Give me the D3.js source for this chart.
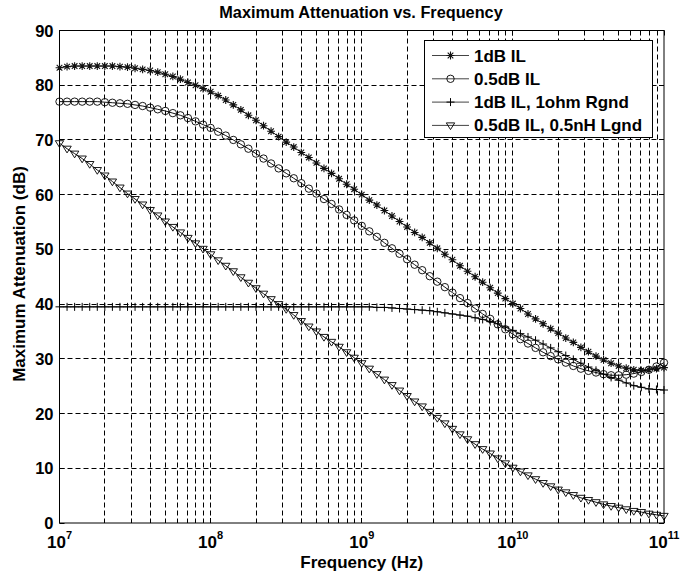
<!DOCTYPE html>
<html>
<head>
<meta charset="utf-8">
<script src="https://cdn.jsdelivr.net/npm/d3@7"></script>
<style>
  body { margin: 0; background: #fff; }
  text { font-family: "Liberation Sans", Arial, Helvetica, sans-serif; font-weight: bold; fill: #000; }
</style>
</head>
<body>
<svg id="chart" width="697" height="580"></svg>
<script>
// sweep: 1e7 .. 1e11 Hz, 20 points per decade
const decades = [7, 8, 9, 10, 11];
const pointsPerDecade = 20;
const freqs = d3.range(0, 81).map(i => Math.pow(10, 7 + i / pointsPerDecade));

// 1dB IL (stars)
const il1dB = [
  83.2, 83.4, 83.5, 83.5, 83.5, 83.5, 83.5, 83.5, 83.4, 83.3,
  83.1, 82.9, 82.7, 82.4, 82.0, 81.6, 81.1, 80.5, 80.0, 79.4,
  78.8, 78.1, 77.3, 76.4, 75.5, 74.5, 73.6, 72.6, 71.6, 70.6,
  69.6, 68.7, 67.7, 66.8, 65.8, 64.8, 63.9, 62.9, 61.9, 61.0,
  60.0, 59.0, 58.1, 57.1, 56.1, 55.1, 54.1, 53.1, 52.2, 51.2,
  50.2, 49.1, 48.1, 47.0, 46.0, 45.0, 44.0, 43.0, 42.0, 41.0,
  40.1, 39.2, 38.2, 37.3, 36.4, 35.5, 34.7, 33.8, 33.0, 32.1,
  31.3, 30.5, 29.8, 29.2, 28.7, 28.3, 28.0, 27.9, 28.0, 28.2,
  28.4
];

// 0.5dB IL (circles)
const il05dB = [
  77.0, 77.0, 77.0, 77.0, 77.0, 77.0, 76.9, 76.8, 76.7, 76.6,
  76.4, 76.2, 75.9, 75.6, 75.3, 74.9, 74.5, 74.0, 73.4, 72.8,
  72.2, 71.5, 70.8, 70.0, 69.2, 68.4, 67.5, 66.6, 65.7, 64.8,
  63.9, 63.0, 62.1, 61.1, 60.2, 59.2, 58.3, 57.3, 56.3, 55.3,
  54.3, 53.3, 52.3, 51.2, 50.2, 49.2, 48.2, 47.2, 46.2, 45.1,
  44.1, 43.1, 42.1, 41.1, 40.2, 39.2, 38.2, 37.3, 36.3, 35.4,
  34.5, 33.6, 32.8, 32.0, 31.2, 30.5, 29.9, 29.3, 28.7, 28.2,
  27.8, 27.5, 27.2, 27.0, 27.0, 27.1, 27.3, 27.6, 28.0, 28.6,
  29.3
];

// 1dB IL, 1ohm Rgnd (plus)
const il1dBRgnd = [
  39.5, 39.5, 39.5, 39.5, 39.5, 39.5, 39.5, 39.5, 39.5, 39.5,
  39.5, 39.5, 39.5, 39.5, 39.5, 39.5, 39.5, 39.5, 39.5, 39.5,
  39.5, 39.5, 39.5, 39.5, 39.5, 39.5, 39.5, 39.5, 39.5, 39.5,
  39.5, 39.5, 39.5, 39.5, 39.5, 39.5, 39.5, 39.5, 39.5, 39.5,
  39.5, 39.5, 39.4, 39.4, 39.3, 39.2, 39.1, 39.0, 38.9, 38.8,
  38.6, 38.4, 38.2, 38.0, 37.8, 37.5, 37.2, 36.8, 36.4, 35.8,
  35.2, 34.6, 34.0, 33.4, 32.7, 32.0, 31.3, 30.6, 29.9, 29.2,
  28.5, 27.9, 27.2, 26.6, 26.1, 25.6, 25.1, 24.8, 24.5, 24.4,
  24.3
];

// 0.5dB IL, 0.5nH Lgnd (down triangles)
const il05dBLgnd = [
  69.4, 68.4, 67.5, 66.6, 65.6, 64.5, 63.5, 62.4, 61.3, 60.2,
  59.2, 58.2, 57.2, 56.2, 55.1, 54.1, 53.1, 52.1, 51.1, 50.1,
  49.1, 48.0, 47.0, 46.0, 44.9, 43.9, 42.9, 41.9, 40.9, 40.0,
  39.1, 38.0, 36.9, 35.9, 35.0, 34.0, 33.1, 32.2, 31.2, 30.2,
  29.2, 28.2, 27.2, 26.2, 25.2, 24.2, 23.2, 22.2, 21.3, 20.3,
  19.2, 18.2, 17.2, 16.2, 15.3, 14.4, 13.5, 12.7, 11.8, 10.9,
  10.1, 9.4, 8.7, 8.0, 7.3, 6.7, 6.1, 5.6, 5.1, 4.6,
  4.2, 3.8, 3.4, 3.1, 2.8, 2.5, 2.2, 2.0, 1.7, 1.5,
  1.3
];

const yTicks = [0, 10, 20, 30, 40, 50, 60, 70, 80, 90];
const legendLabels = ['1dB IL', '0.5dB IL', '1dB IL, 1ohm Rgnd', '0.5dB IL, 0.5nH Lgnd'];

const series = [
  { name: legendLabels[0], values: il1dB, marker: 'star' },
  { name: legendLabels[1], values: il05dB, marker: 'circle' },
  { name: legendLabels[2], values: il1dBRgnd, marker: 'plus' },
  { name: legendLabels[3], values: il05dBLgnd, marker: 'tridown' }
];

const svg = d3.select('#chart');
const plotL = 59.5, plotR = 664, plotT = 30.5, plotB = 523;

const x = d3.scaleLog().domain([1e7, 1e11]).range([plotL, plotR]);
const y = d3.scaleLinear().domain([0, 90]).range([plotB, plotT]);
const crisp = v => Math.round(v - 0.5) + 0.5;

svg.append('rect').attr('width', 697).attr('height', 580).attr('fill', '#fff');

// grid
const grid = svg.append('g').attr('stroke', '#000').attr('stroke-width', 1)
  .attr('stroke-dasharray', '5,3').attr('fill', 'none');

const minorFreqs = [];
decades.slice(0, -1).forEach(d => {
  for (let m = 1; m <= 9; m++) {
    const f = m * Math.pow(10, d);
    if (f > 1e7) minorFreqs.push(f);
  }
});

grid.selectAll('line.v').data(minorFreqs).join('line')
  .attr('class', 'v')
  .attr('x1', d => crisp(x(d))).attr('x2', d => crisp(x(d)))
  .attr('y1', plotT).attr('y2', plotB);

grid.selectAll('line.h').data(yTicks.slice(1, -1)).join('line')
  .attr('class', 'h')
  .attr('x1', plotL).attr('x2', plotR)
  .attr('y1', d => crisp(y(d))).attr('y2', d => crisp(y(d)));

// box
svg.append('rect')
  .attr('x', plotL).attr('y', plotT)
  .attr('width', plotR - plotL).attr('height', plotB - plotT)
  .attr('fill', 'none').attr('stroke', '#000').attr('stroke-width', 1);

// tick marks (inside)
const ticks = svg.append('g').attr('stroke', '#000').attr('stroke-width', 1);
yTicks.forEach(t => {
  const yy = crisp(y(t));
  ticks.append('line').attr('x1', plotL).attr('x2', plotL + 5).attr('y1', yy).attr('y2', yy);
  ticks.append('line').attr('x1', plotR - 5).attr('x2', plotR).attr('y1', yy).attr('y2', yy);
});
minorFreqs.concat([1e7, 1e11]).forEach(f => {
  const xx = crisp(x(f));
  const major = Math.abs(Math.log10(f) - Math.round(Math.log10(f))) < 1e-9;
  const len = major ? 5 : 3;
  ticks.append('line').attr('x1', xx).attr('x2', xx).attr('y1', plotB).attr('y2', plotB - len);
  ticks.append('line').attr('x1', xx).attr('x2', xx).attr('y1', plotT).attr('y2', plotT + len);
});

// y tick labels
svg.append('g').selectAll('text').data(yTicks).join('text')
  .attr('x', 53.5).attr('y', d => y(d) + 6)
  .attr('text-anchor', 'end').attr('font-size', 16.5)
  .text(d => d);

// x tick labels 10^n
const xl = svg.append('g').selectAll('text').data(decades).join('text')
  .attr('x', d => x(Math.pow(10, d))).attr('y', 548)
  .attr('text-anchor', 'middle').attr('font-size', 17);
xl.append('tspan').text('10');
xl.append('tspan').attr('font-size', 11).attr('dy', -9).text(d => d);

// axis labels & title
svg.append('text').attr('x', (plotL + plotR) / 2).attr('y', 568)
  .attr('text-anchor', 'middle').attr('font-size', 17).text('Frequency (Hz)');
svg.append('text')
  .attr('transform', 'translate(25,274) rotate(-90)')
  .attr('text-anchor', 'middle').attr('font-size', 17).text('Maximum Attenuation (dB)');
svg.append('text').attr('x', 361).attr('y', 18)
  .attr('text-anchor', 'middle').attr('font-size', 16.3).text('Maximum Attenuation vs. Frequency');

// markers
function drawMarker(g, type, cx, cy) {
  if (type === 'circle') {
    g.append('circle').attr('cx', cx).attr('cy', cy).attr('r', 3.7)
      .attr('fill', 'none').attr('stroke', '#000').attr('stroke-width', 0.9);
  } else if (type === 'star') {
    const r = 3.9, q = r * 0.72;
    g.append('path')
      .attr('d', `M${cx - r},${cy}H${cx + r}M${cx},${cy - r}V${cy + r}` +
        `M${cx - q},${cy - q}L${cx + q},${cy + q}M${cx - q},${cy + q}L${cx + q},${cy - q}`)
      .attr('stroke', '#111').attr('stroke-width', 1.1).attr('fill', 'none');
  } else if (type === 'plus') {
    const r = 4;
    g.append('path')
      .attr('d', `M${cx - r},${cy}H${cx + r}M${cx},${cy - r}V${cy + r}`)
      .attr('stroke', '#000').attr('stroke-width', 1).attr('fill', 'none');
  } else if (type === 'tridown') {
    const w = 4.2, h = 4.2;
    g.append('path')
      .attr('d', `M${cx - w},${cy - h * 0.6}L${cx + w},${cy - h * 0.6}L${cx},${cy + h}Z`)
      .attr('stroke', '#000').attr('stroke-width', 0.9).attr('fill', 'none');
  }
}

const line = d3.line().x(d => x(d[0])).y(d => y(d[1]));
const plot = svg.append('g');
series.forEach(s => {
  const pts = freqs.map((f, i) => [f, s.values[i]]);
  plot.append('path').datum(pts).attr('d', line)
    .attr('fill', 'none').attr('stroke', '#111').attr('stroke-width', 1);
  const mg = plot.append('g');
  pts.forEach(p => drawMarker(mg, s.marker, x(p[0]), y(p[1])));
});

// legend
const lg = svg.append('g');
lg.append('rect').attr('x', 424.5).attr('y', 40.5).attr('width', 228).attr('height', 97)
  .attr('fill', '#fff').attr('stroke', '#000').attr('stroke-width', 1);
series.forEach((s, i) => {
  const ly = 55.5 + i * 23.3;
  lg.append('line').attr('x1', 432).attr('x2', 469).attr('y1', ly).attr('y2', ly)
    .attr('stroke', '#444').attr('stroke-width', 1);
  drawMarker(lg, s.marker, 450.5, ly);
  lg.append('text').attr('x', 474).attr('y', ly + 6).attr('font-size', 17).text(s.name);
});
</script>
</body>
</html>
